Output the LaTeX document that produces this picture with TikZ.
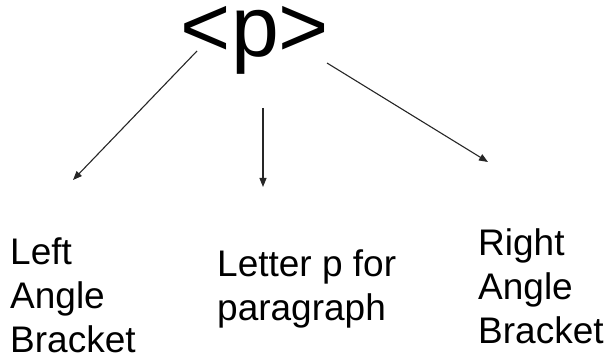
\documentclass[tikz,border=0pt]{standalone}
\usepackage{fontspec}
\setmainfont{Liberation Sans}
\usetikzlibrary{arrows.meta}
\begin{document}
\begin{tikzpicture}[x=1pt,y=-1pt,
  lbl/.style={font=\fontsize{37}{44}\selectfont, align=left, anchor=north west, inner sep=0pt},
  conn/.style={draw=black!85, line width=1.1pt, -{Triangle[length=9pt,width=7pt]}}]
\useasboundingbox (0,0) rectangle (608,358);
\node[font=\fontsize{86}{86}\selectfont, anchor=base, inner sep=0pt] (tag) at (255,57) {<p>};
\node[lbl] (left) at (10,238) {Left\\Angle\\Bracket};
\node[lbl] (mid) at (217,250) {Letter p for\\paragraph};
\node[lbl] (right) at (478,228) {Right\\Angle\\Bracket};
\coordinate (s1) at (197,51);
\coordinate (e1) at (73,180);
\coordinate (s2) at (263,108);
\coordinate (e2) at (263,187);
\coordinate (s3) at (327,63);
\coordinate (e3) at (488,162);
\draw[conn] (s1) -- (e1);
\draw[conn] (s2) -- (e2);
\draw[conn] (s3) -- (e3);
\end{tikzpicture}
\end{document}
